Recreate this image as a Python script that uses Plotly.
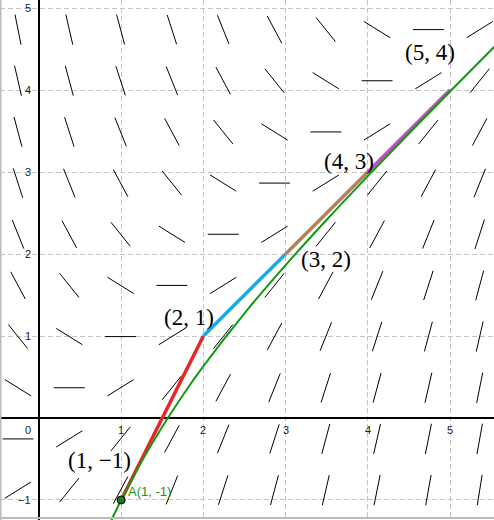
import numpy as np
import plotly.graph_objects as go

# slope field dy/dx = x - y, sampled on a 10x10 grid
field_x = [-0.255, 0.369, 0.993, 1.617, 2.241, 2.865, 3.489, 4.113, 4.737, 5.361]
field_y = [-0.879, -0.255, 0.369, 0.993, 1.617, 2.241, 2.865, 3.489, 4.113, 4.737]

# Euler steps (h = 1) starting at A(1, -1)
euler_x = [1, 2, 3, 4, 5]
euler_y = [-1, 1, 2, 3, 4]
euler_colors = ["#e8262a", "#1aaae8", "#b4825a", "#bf4cc4"]
euler_labels = ["(1, \u22121)", "(2, 1)", "(3, 2)", "(4, 3)", "(5, 4)"]
label_x = [0.742, 1.825, 3.49, 3.77, 4.757]
label_y = [-0.524, 1.22, 1.93, 3.13, 4.463]

# exact solution through A
curve_x = [0.85, 0.9, 1.0, 1.25, 1.5, 1.75, 2.0, 2.5, 3.0, 3.5, 4.0, 4.5, 5.0, 5.5, 5.6]
curve_y = [-1.312, -1.205, -1.0, -0.529, -0.107, 0.278, 0.632, 1.277, 1.865,
           2.418, 2.950, 3.470, 3.982, 4.489, 4.590]

x_ticks = [0, 1, 2, 3, 4, 5]
y_ticks = [-1, 1, 2, 3, 4, 5]


def slope(x, y):
    return x - y


half = 0.188
sx, sy = [], []
for yv in field_y:
    for xv in field_x:
        m = slope(xv, yv)
        d = np.hypot(1, m)
        dx, dy = half / d, half * m / d
        sx += [xv - dx, xv + dx, None]
        sy += [yv - dy, yv + dy, None]

fig = go.Figure()

fig.add_trace(go.Scatter(x=sx, y=sy, mode="lines",
                         line=dict(color="black", width=1), hoverinfo="skip"))

for i in range(len(euler_x) - 1):
    fig.add_trace(go.Scatter(
        x=euler_x[i:i + 2], y=euler_y[i:i + 2], mode="lines",
        line=dict(color=euler_colors[i], width=3.5), hoverinfo="skip"))

fig.add_trace(go.Scatter(x=curve_x, y=curve_y, mode="lines",
                         line=dict(color="#129912", width=2, shape="spline"),
                         hoverinfo="skip"))

fig.add_trace(go.Scatter(x=[euler_x[0]], y=[euler_y[0]], mode="markers",
                         marker=dict(color="#1e7a1e", size=8,
                                     line=dict(color="black", width=1)),
                         hoverinfo="skip"))

for t, lx, ly in zip(euler_labels, label_x, label_y):
    fig.add_annotation(x=lx, y=ly, text=t, showarrow=False,
                       font=dict(family="Liberation Serif", size=23, color="black"))

fig.add_annotation(x=1.06, y=-0.9, text="A(1, -1)", showarrow=False, xanchor="left",
                   font=dict(family="Liberation Sans", size=13, color="#129912"))

tick_font = dict(family="Liberation Sans", size=11, color="#222")
for t in x_ticks:
    fig.add_annotation(x=t if t else -0.13, y=-0.146, text=str(t), showarrow=False,
                       font=tick_font)
for t in y_ticks:
    fig.add_annotation(x=-0.07, y=t, text=str(t).replace("-", "\u2212"),
                       showarrow=False, xanchor="right", font=tick_font)

# view border
fig.add_shape(type="line", xref="paper", yref="paper", x0=0.001, x1=0.001, y0=0, y1=1,
              line=dict(color="#bbbbbb", width=2))
fig.add_shape(type="line", xref="paper", yref="paper", x0=0, x1=1, y0=0.004, y1=0.004,
              line=dict(color="#bbbbbb", width=2))

axis_common = dict(dtick=1, tick0=0, showticklabels=False, ticks="",
                   showgrid=True, gridcolor="#c4c4c4", gridwidth=1, griddash="5px,3px",
                   zeroline=True, zerolinecolor="black", zerolinewidth=1.5,
                   showline=False, fixedrange=True)

fig.update_layout(
    width=494, height=520,
    margin=dict(l=0, r=0, t=0, b=0),
    plot_bgcolor="white", paper_bgcolor="white",
    showlegend=False,
    xaxis=dict(range=[-0.474, 5.535], **axis_common),
    yaxis=dict(range=[-1.244, 5.098], **axis_common),
)

fig.write_html("out.html", config={"displayModeBar": False},
               post_script="document.body.style.margin='0';document.body.style.overflow='hidden';")
